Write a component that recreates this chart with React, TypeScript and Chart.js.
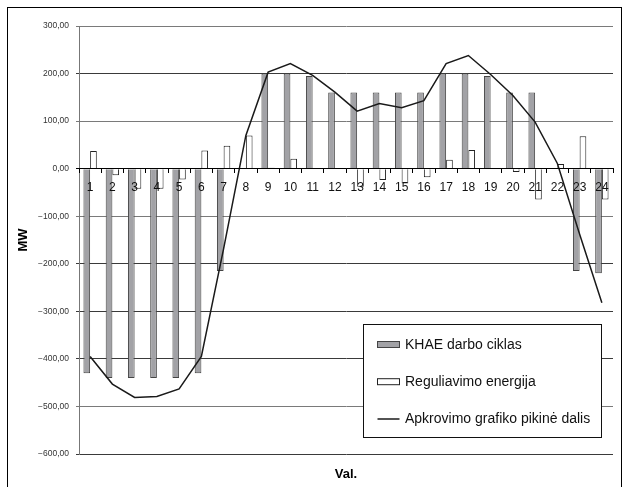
import React, { useEffect, useRef } from 'react';
import { Chart, registerables } from 'chart.js';

Chart.register(...registerables);

const hours = ['1', '2', '3', '4', '5', '6', '7', '8', '9', '10', '11', '12', '13', '14', '15', '16', '17', '18', '19', '20', '21', '22', '23', '24'];
const khaeCycle = [-430, -440, -440, -440, -440, -430, -215, null, 200, 200, 195, 160, 160, 160, 160, 160, 200, 200, 195, 160, 160, null, -215, -220];
const regulating = [37, -14, -42, -42, -23, 38, 48, 70, 2, 21, null, null, -38, -24, -31, -18, 19, 39, null, -7, -65, 10, 68, -65];
const peakLoad = [-395, -453, -481, -479, -463, -395, -168, 70, 203, 221, 196, 161, 121, 137, 128, 143, 221, 238, 198, 154, 98, 11, -138, -282];
const yMin = -600;
const yMax = 300;
const yStep = 100;

const seriesNames = ['KHAE darbo ciklas', 'Reguliavimo energija', 'Apkrovimo grafiko pikinė dalis'];

const FONT = '"Liberation Sans", Arial, sans-serif';

const fmt = (v: number) => (v < 0 ? '\u2212' : '') + Math.abs(v).toFixed(2).replace('.', ',');

const boxLegend = {
  id: 'boxLegend',
  afterDraw(chart: any) {
    const ctx = chart.ctx as CanvasRenderingContext2D;
    const x0 = 355.5, y0 = 316.5, w = 238, h = 113;
    ctx.save();
    ctx.fillStyle = '#ffffff';
    ctx.fillRect(x0, y0, w, h);
    ctx.strokeStyle = '#111';
    ctx.lineWidth = 1;
    ctx.strokeRect(x0, y0, w, h);
    const rowsY = [336.5, 373.7, 411];
    const sx = 369.5, sw = 22;
    const dsets = chart.data.datasets;
    [0, 1, 2].forEach((i, r) => {
      const ds = dsets[i];
      const cy = rowsY[r];
      if (ds.type === 'line') {
        ctx.strokeStyle = ds.borderColor;
        ctx.lineWidth = 1.5;
        ctx.beginPath();
        ctx.moveTo(sx, cy);
        ctx.lineTo(sx + sw, cy);
        ctx.stroke();
      } else {
        ctx.fillStyle = ds.backgroundColor;
        ctx.fillRect(sx, cy - 3, sw, 6);
        ctx.strokeStyle = ds.borderColor;
        ctx.lineWidth = 1;
        ctx.strokeRect(sx, cy - 3, sw, 6);
      }
      ctx.fillStyle = '#111';
      ctx.font = '14px ' + FONT;
      ctx.textBaseline = 'middle';
      ctx.textAlign = 'left';
      ctx.fillText(ds.label, 397, cy + 0.5);
    });
    ctx.restore();
  },
};

export default function App() {
  const ref = useRef<HTMLCanvasElement | null>(null);

  useEffect(() => {
    if (!ref.current) return;
    const chart = new Chart(ref.current, {
      type: 'bar',
      data: {
        labels: hours,
        datasets: [
          {
            type: 'bar',
            label: seriesNames[0],
            data: khaeCycle,
            backgroundColor: '#a2a2a6',
            borderColor: '#444',
            borderWidth: 1,
            barPercentage: 1,
            categoryPercentage: 0.6,
            order: 1,
          } as any,
          {
            type: 'bar',
            label: seriesNames[1],
            data: regulating,
            backgroundColor: '#ffffff',
            borderColor: '#222',
            borderWidth: 1,
            barPercentage: 1,
            categoryPercentage: 0.6,
            order: 2,
          },
          {
            type: 'line',
            label: seriesNames[2],
            data: peakLoad,
            borderColor: '#1a1a1a',
            backgroundColor: '#1a1a1a',
            borderWidth: 1.5,
            pointRadius: 0,
            tension: 0,
            fill: false,
            order: 0,
          },
        ],
      },
      options: {
        animation: false,
        responsive: true,
        maintainAspectRatio: false,
        layout: { padding: { top: 18, right: 9, left: 0, bottom: 0 } },
        plugins: {
          legend: { display: false },
          tooltip: { enabled: false },
        },
        scales: {
          y: {
            position: 'left',
            min: yMin,
            max: yMax,
            ticks: {
              stepSize: yStep,
              callback: (v: any) => fmt(Number(v)),
              font: { family: FONT, size: 8.5 },
              color: '#333',
              padding: 7,
            },
            grid: {
              color: (c: any) => {
                const v = c.tick ? c.tick.value : 1;
                if (v === 0) return '#000';
                if (v === 300 || v === 100 || v === -100 || v === -500) return '#7a7a7a';
                return '#3a3a3a';
              },
              lineWidth: 1,
              tickLength: 3,
            },
            border: { display: true, color: '#777' },
            title: {
              display: true,
              text: 'MW',
              font: { family: FONT, size: 13, weight: 'bold' },
              color: '#000',
              padding: { top: 8, bottom: 0 },
            },
            afterFit: (s: any) => {
              s.width = 71;
            },
          },
          x: {
            type: 'category',
            position: { y: 0 } as any,
            offset: true,
            ticks: {
              font: { family: FONT, size: 12 },
              color: '#111',
              padding: 8,
              maxRotation: 0,
              autoSkip: false,
              z: 1,
            },
            grid: {
              offset: true,
              drawOnChartArea: false,
              drawTicks: true,
              tickLength: 4,
              color: '#000',
              z: 1,
            },
            border: { display: true, color: '#000', z: 1 },
          },
          xt: {
            type: 'category',
            labels: hours,
            position: 'bottom',
            offset: true,
            ticks: { display: false },
            grid: { display: false },
            border: { display: false },
            title: {
              display: true,
              text: 'Val.',
              font: { family: FONT, size: 13, weight: 'bold' },
              color: '#000',
              padding: { top: 0, bottom: 5 },
            },
            afterFit: (s: any) => {
              s.height = 33;
            },
          },
        },
      } as any,
      plugins: [boxLegend],
    });
    return () => chart.destroy();
  }, []);

  return (
    <>
      <div
        style={{
          position: 'fixed',
          left: 7,
          top: 7,
          width: 613,
          height: 479,
          borderTop: '1px solid #000',
          borderLeft: '1px solid #000',
          borderRight: '1px solid #000',
          pointerEvents: 'none',
        }}
      />
      <div style={{ position: 'relative', width: 614, height: 479 }}>
        <canvas ref={ref} />
      </div>
    </>
  );
}
